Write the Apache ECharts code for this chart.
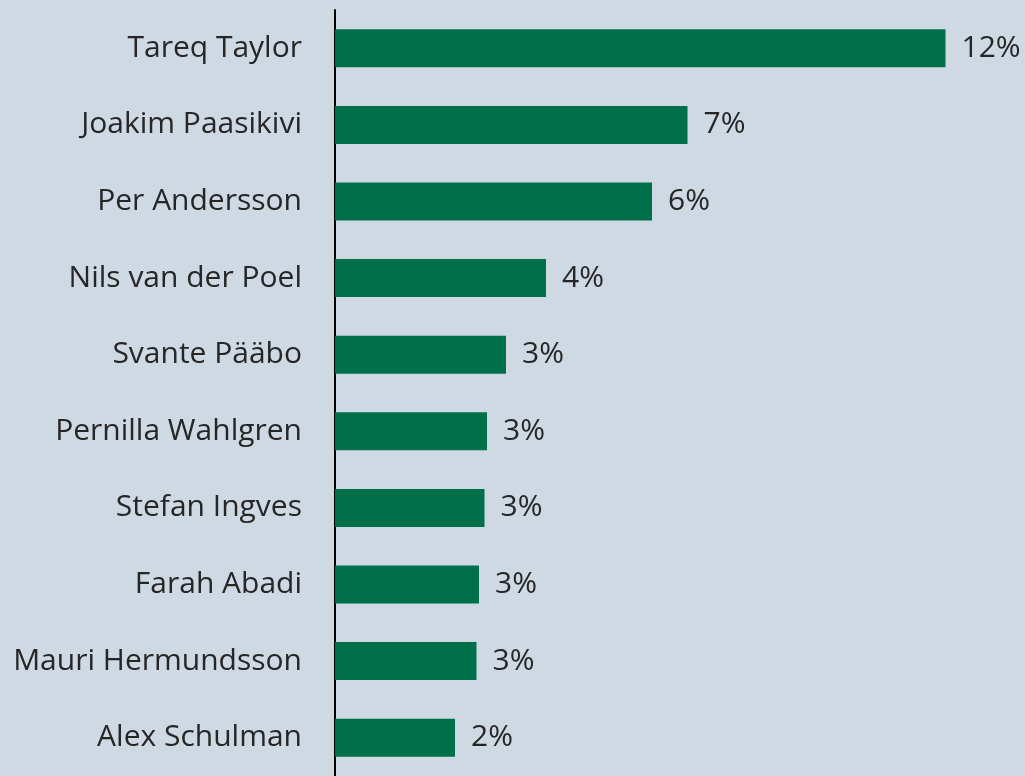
<!DOCTYPE html>
<html>
<head>
<meta charset="utf-8">
<script src="https://cdn.jsdelivr.net/npm/echarts@6/dist/echarts.min.js"></script>
<style>
  html, body { margin: 0; padding: 0; background: #cfd9e3; }
  #chart { width: 1025px; height: 776px; }
</style>
</head>
<body>
<div id="chart"></div>
<script>
// names, top to bottom
var names = ['Tareq Taylor', 'Joakim Paasikivi', 'Per Andersson', 'Nils van der Poel',
  'Svante Pääbo', 'Pernilla Wahlgren', 'Stefan Ingves', 'Farah Abadi',
  'Mauri Hermundsson', 'Alex Schulman'];
// share in percent
var shares = [12.21, 7.05, 6.34, 4.22, 3.42, 3.04, 2.99, 2.88, 2.83, 2.40];

var chart = echarts.init(document.getElementById('chart'));
chart.setOption({
  backgroundColor: '#cfd9e3',
  animation: false,
  grid: { left: 335, top: 10, width: 690, height: 772 },
  xAxis: {
    type: 'value',
    min: 0,
    max: 13.8,
    show: false
  },
  yAxis: {
    type: 'category',
    inverse: true,
    data: names,
    axisLine: { show: true, lineStyle: { color: '#000', width: 2 } },
    axisTick: { show: false },
    axisLabel: {
      margin: 33,
      color: '#262626',
      fontFamily: 'Open Sans',
      fontSize: 30
    }
  },
  series: [{
    type: 'bar',
    data: shares,
    barWidth: 38,
    itemStyle: { color: '#00704a' },
    label: {
      show: true,
      position: 'right',
      distance: 16,
      color: '#262626',
      fontFamily: 'Open Sans',
      fontSize: 30,
      formatter: function (p) { return Math.round(p.value) + '%'; }
    }
  }]
});
</script>
</body>
</html>
